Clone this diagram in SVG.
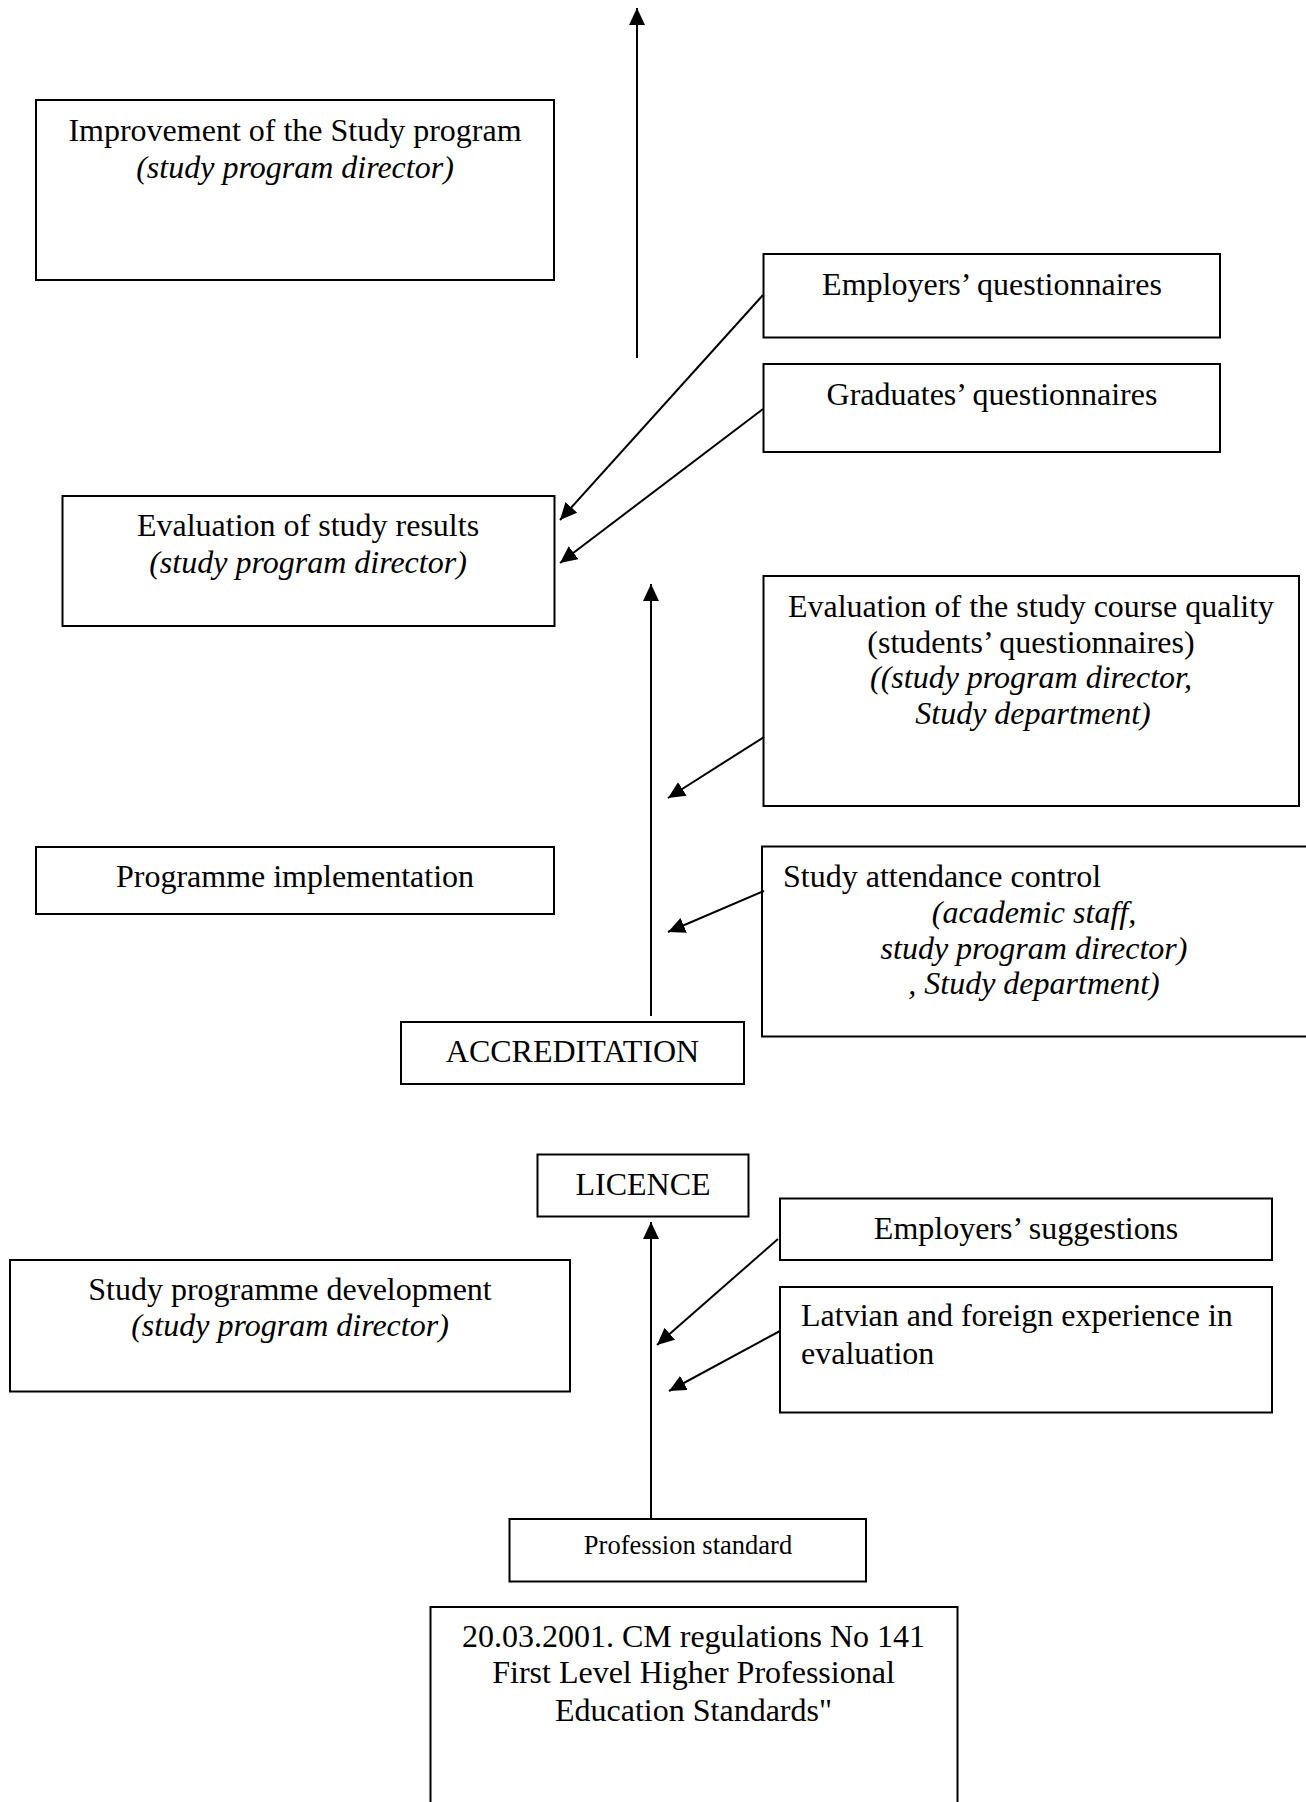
<svg xmlns="http://www.w3.org/2000/svg" width="1306" height="1802" viewBox="0 0 1306 1802">
<defs>
<style>
.box{fill:#fff;stroke:#000;stroke-width:2}
.t{font-family:"Liberation Serif","Times New Roman",serif;font-size:32px;fill:#000}
.c{text-anchor:middle}
.i{font-style:italic}
.s{font-size:26.5px}
.con line{stroke:#000;stroke-width:2;marker-end:url(#ah)}
</style>
<marker id="ah" markerUnits="userSpaceOnUse" viewBox="0 0 17 16" markerWidth="17" markerHeight="16" refX="17" refY="8" orient="auto">
<path d="M0,0 L17,8 L0,16 z" fill="#000"/>
</marker>
</defs>
<rect width="1306" height="1802" fill="#fff"/>

<g id="improvement">
<rect class="box" x="36" y="100" width="518" height="180"/>
<text class="t c" x="295" y="141">Improvement of the Study program</text>
<text class="t c i" x="295" y="178">(study program director)</text>
</g>

<g id="employers-questionnaires">
<rect class="box" x="763.5" y="254" width="456.5" height="83.5"/>
<text class="t c" x="992" y="295">Employers’ questionnaires</text>
</g>

<g id="graduates-questionnaires">
<rect class="box" x="763.5" y="364" width="456.5" height="88"/>
<text class="t c" x="992" y="405">Graduates’ questionnaires</text>
</g>

<g id="evaluation-results">
<rect class="box" x="62.5" y="496" width="492" height="130"/>
<text class="t c" x="308" y="536">Evaluation of study results</text>
<text class="t c i" x="308" y="573">(study program director)</text>
</g>

<g id="evaluation-course">
<rect class="box" x="763.5" y="576" width="535.5" height="230"/>
<text class="t c" x="1031" y="616.5">Evaluation of the study course quality</text>
<text class="t c" x="1031" y="653">(students’ questionnaires)</text>
<text class="t c i" x="1031" y="688">((study program director,</text>
<text class="t c i" x="1033" y="724">Study department)</text>
</g>

<g id="programme-implementation">
<rect class="box" x="36" y="847" width="518" height="67"/>
<text class="t c" x="295" y="887">Programme implementation</text>
</g>

<g id="attendance">
<rect class="box" x="762" y="846.5" width="570" height="190"/>
<text class="t" x="783" y="886.5">Study attendance control</text>
<text class="t c i" x="1034" y="923">(academic staff,</text>
<text class="t c i" x="1034" y="958.5">study program director)</text>
<text class="t c i" x="1034" y="994">, Study department)</text>
</g>

<g id="accreditation">
<rect class="box" x="401" y="1022" width="343" height="62"/>
<text class="t c" x="572.5" y="1062">ACCREDITATION</text>
</g>

<g id="licence">
<rect class="box" x="537.5" y="1154.5" width="211" height="62"/>
<text class="t c" x="643" y="1195">LICENCE</text>
</g>

<g id="employers-suggestions">
<rect class="box" x="780" y="1198.5" width="492" height="61.5"/>
<text class="t c" x="1026" y="1238.5">Employers’ suggestions</text>
</g>

<g id="latvian-experience">
<rect class="box" x="780" y="1287" width="492" height="125.5"/>
<text class="t" x="801" y="1326">Latvian and foreign experience in</text>
<text class="t" x="801" y="1364">evaluation</text>
</g>

<g id="programme-development">
<rect class="box" x="10" y="1260" width="560" height="131.5"/>
<text class="t c" x="290" y="1300">Study programme development</text>
<text class="t c i" x="290" y="1336">(study program director)</text>
</g>

<g id="profession-standard">
<rect class="box" x="509.5" y="1519" width="356.5" height="62.5"/>
<text class="t c s" x="688" y="1554">Profession standard</text>
</g>

<g id="regulations">
<rect class="box" x="430.5" y="1607" width="527" height="240"/>
<text class="t c" x="693.5" y="1647">20.03.2001. CM regulations No 141</text>
<text class="t c" x="693.5" y="1683">First Level Higher Professional</text>
<text class="t c" x="693.5" y="1721">Education Standards"</text>
</g>

<g id="connectors" class="con">
<line x1="637" y1="358" x2="637" y2="8"/>
<line x1="763" y1="295" x2="560" y2="520"/>
<line x1="763" y1="409" x2="560" y2="563"/>
<line x1="651" y1="1016" x2="651" y2="584"/>
<line x1="764" y1="737" x2="668" y2="798"/>
<line x1="764" y1="891" x2="668" y2="932"/>
<line x1="651" y1="1518" x2="651" y2="1222"/>
<line x1="778" y1="1239" x2="657" y2="1345"/>
<line x1="780" y1="1331" x2="669" y2="1391"/>
</g>
</svg>
